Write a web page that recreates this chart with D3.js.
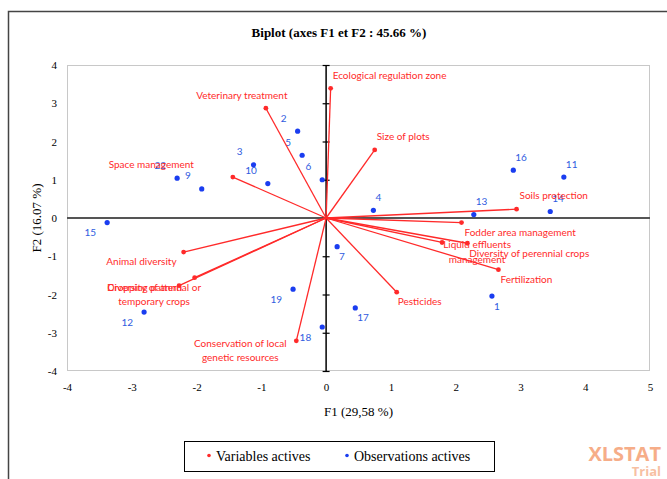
<!DOCTYPE html>
<html>
<head>
<meta charset="utf-8">
<script src="https://cdn.jsdelivr.net/npm/d3@7/dist/d3.min.js"></script>
<style>
  body { margin: 0; background: #fff; }
  svg { display: block; }
</style>
</head>
<body>
<svg id="chart" width="667" height="479"></svg>
<script>
// active variables (vectors), coordinates on F1 / F2
const varNames = [
  'Ecological regulation zone', 'Veterinary treatment', 'Size of plots', 'Space management',
  'Soils protection', 'Fodder area management', 'Liquid effluents\nmanagement',
  'Diversity of perennial crops', 'Fertilization', 'Pesticides',
  'Conservation of local\ngenetic resources', 'Animal diversity', 'Cropping pattern',
  'Diversity of annual or\ntemporary crops'
];
const varF1 = [0.07, -0.93, 0.75, -1.44, 2.94, 2.09, 1.79, 2.18, 2.66, 1.09, -0.46, -2.20, -2.03, -2.27];
const varF2 = [3.39, 2.87, 1.78, 1.07, 0.23, -0.12, -0.64, -0.66, -1.35, -1.94, -3.21, -0.89, -1.56, -1.77];

// active observations
const obsNames = ['1', '2', '3', '4', '5', '6', '7', '9', '10', '11', '12', '13', '14', '15', '16', '17', '18', '19', '22'];
const obsF1 = [2.56, -0.44, -1.12, 0.73, -0.37, -0.06, 0.17, -1.92, -0.90, 3.67, -2.81, 2.28, 3.46, -3.38, 2.89, 0.45, -0.06, -0.51, -2.30];
const obsF2 = [-2.04, 2.27, 1.39, 0.20, 1.64, 1.00, -0.75, 0.76, 0.90, 1.07, -2.46, 0.09, 0.17, -0.12, 1.25, -2.35, -2.85, -1.86, 1.04];

const xTicks = [-4, -3, -2, -1, 0, 1, 2, 3, 4, 5];
const yTicks = [-4, -3, -2, -1, 0, 1, 2, 3, 4];

const title = 'Biplot (axes F1 et F2 : 45.66 %)';
const xTitle = 'F1 (29,58 %)';
const yTitle = 'F2 (16.07 %)';
const legendLabels = ['Variables actives', 'Observations actives'];

// label placement for the variable names: [dx, dy, anchor]
const varLabelPlace = [
  [2, -9, 'start'], [-24, -9, 'middle'], [2, -10, 'start'], [-39, -9, 'end'],
  [3, -10, 'start'], [3, 13, 'start'], [35, 6, 'middle'],
  [2, 14, 'start'], [2, 13, 'start'], [1, 13, 'start'],
  [-56, 6, 'middle'], [-7, 13, 'end'], [-87, 13, 'start'],
  [-25, 5, 'middle']
];

const red = '#ff2a2a';
const blue = '#1a3df0';
const labelFont = 'Lato, "Open Sans", sans-serif';
const serif = '"Liberation Serif", "Times New Roman", serif';

const svg = d3.select('#chart');

// outer frame
svg.append('rect')
  .attr('x', 8.5).attr('y', 11.5)
  .attr('width', 700).attr('height', 500)
  .attr('fill', 'none').attr('stroke', '#444').attr('stroke-width', 1.5);

const plot = { left: 67, right: 650, top: 65, bottom: 371 };

const x = d3.scaleLinear().domain([-4, 5]).range([plot.left, plot.right]);
const y = d3.scaleLinear().domain([-4, 4]).range([plot.bottom, plot.top]);

svg.append('text')
  .attr('x', 339).attr('y', 37)
  .attr('text-anchor', 'middle')
  .attr('font-family', serif).attr('font-weight', 'bold').attr('font-size', 13)
  .text(title);

// plot border
svg.append('rect')
  .attr('x', plot.left + 0.5).attr('y', plot.top + 0.5)
  .attr('width', plot.right - plot.left - 1).attr('height', plot.bottom - plot.top - 1)
  .attr('fill', 'none').attr('stroke', '#c8c8c8');

// tick labels (plain hyphen for negatives, as in the original)
const fmt = d => String(d);

const yAxis = svg.append('g')
  .attr('transform', `translate(${plot.left},0)`)
  .call(d3.axisLeft(y).tickValues(yTicks).tickSize(0).tickPadding(10).tickFormat(fmt));
yAxis.select('.domain').remove();
yAxis.selectAll('text').attr('font-family', serif).attr('font-size', 11).attr('fill', '#000');

const xAxis = svg.append('g')
  .attr('transform', `translate(0,${plot.bottom})`)
  .call(d3.axisBottom(x).tickValues(xTicks).tickSize(0).tickPadding(12).tickFormat(fmt));
xAxis.select('.domain').remove();
xAxis.selectAll('text').attr('font-family', serif).attr('font-size', 11).attr('fill', '#000');

svg.append('text')
  .attr('x', (plot.left + plot.right) / 2).attr('y', 416)
  .attr('text-anchor', 'middle')
  .attr('font-family', serif).attr('font-size', 13)
  .text(xTitle);

svg.append('text')
  .attr('transform', `translate(41,${(plot.top + plot.bottom) / 2}) rotate(-90)`)
  .attr('text-anchor', 'middle')
  .attr('font-family', serif).attr('font-size', 13)
  .text(yTitle);

// horizontal zero axis
svg.append('line')
  .attr('x1', plot.left).attr('x2', plot.right)
  .attr('y1', y(0)).attr('y2', y(0))
  .attr('stroke', '#555').attr('stroke-width', 2);

// vertical zero axis with crossing ticks
const vAxis = svg.append('g')
  .attr('transform', `translate(${x(0) - 3.5},0)`)
  .call(d3.axisRight(y).tickValues(yTicks).tickSize(7).tickFormat(''));
vAxis.select('.domain').remove();
vAxis.selectAll('line').attr('stroke', '#000').attr('stroke-width', 1.2);
svg.append('line')
  .attr('x1', x(0)).attr('x2', x(0))
  .attr('y1', plot.top).attr('y2', plot.bottom)
  .attr('stroke', '#000').attr('stroke-width', 1.5);

// observations
const obs = obsNames.map((n, i) => ({ name: n, f1: obsF1[i], f2: obsF2[i] }));

svg.append('g').selectAll('circle')
  .data(obs).join('circle')
  .attr('cx', d => x(d.f1)).attr('cy', d => y(d.f2))
  .attr('r', 2.6).attr('fill', blue);

svg.append('g').selectAll('text')
  .data(obs).join('text')
  .attr('x', d => x(d.f1) + (d.f1 >= 0 ? 2 : -11))
  .attr('y', d => y(d.f2) + (d.f2 >= 0 ? -9.5 : 13.5))
  .attr('text-anchor', d => d.f1 >= 0 ? 'start' : 'end')
  .attr('font-family', labelFont).attr('font-size', 10)
  .attr('fill', '#2f5be0')
  .text(d => d.name);

// variables
const vars = varNames.map((n, i) => ({ name: n, f1: varF1[i], f2: varF2[i], place: varLabelPlace[i] }));

svg.append('g').selectAll('line')
  .data(vars).join('line')
  .attr('x1', x(0)).attr('y1', y(0))
  .attr('x2', d => x(d.f1)).attr('y2', d => y(d.f2))
  .attr('stroke', red).attr('stroke-width', 1.3);

svg.append('g').selectAll('circle')
  .data(vars).join('circle')
  .attr('cx', d => x(d.f1)).attr('cy', d => y(d.f2))
  .attr('r', 2.4).attr('fill', red);

const vLabels = svg.append('g').selectAll('text')
  .data(vars).join('text')
  .attr('x', d => x(d.f1) + d.place[0])
  .attr('y', d => y(d.f2) + d.place[1])
  .attr('text-anchor', d => d.place[2])
  .attr('font-family', labelFont).attr('font-size', 10)
  .attr('fill', red);

vLabels.each(function (d) {
  const t = d3.select(this);
  d.name.split('\n').forEach((line, k) => {
    t.append('tspan')
      .attr('x', x(d.f1) + d.place[0])
      .attr('dy', k === 0 ? 0 : 14.5)
      .text(line);
  });
});

// legend
const legend = svg.append('g').attr('transform', 'translate(184,441)');
legend.append('rect')
  .attr('x', 0.5).attr('y', 0.5).attr('width', 310).attr('height', 30)
  .attr('fill', '#fff').attr('stroke', '#000');
const legendItems = [
  { label: legendLabels[0], color: red, x: 25 },
  { label: legendLabels[1], color: blue, x: 163 }
];
legendItems.forEach(it => {
  legend.append('circle').attr('cx', it.x).attr('cy', 14.5).attr('r', 1.8).attr('fill', it.color);
  legend.append('text')
    .attr('x', it.x + 7).attr('y', 20)
    .attr('font-family', serif).attr('font-size', 14)
    .text(it.label);
});

// trial watermark
svg.append('text')
  .attr('x', 661).attr('y', 461)
  .attr('text-anchor', 'end')
  .attr('font-family', '"Open Sans", sans-serif').attr('font-weight', 'bold').attr('font-size', 20)
  .attr('fill', '#f6ad88')
  .text('XLSTAT');
svg.append('text')
  .attr('x', 661).attr('y', 476)
  .attr('text-anchor', 'end')
  .attr('font-family', '"Open Sans", sans-serif').attr('font-weight', 'bold').attr('font-size', 13)
  .attr('fill', '#f7c0a2')
  .text('Trial');
</script>
</body>
</html>
